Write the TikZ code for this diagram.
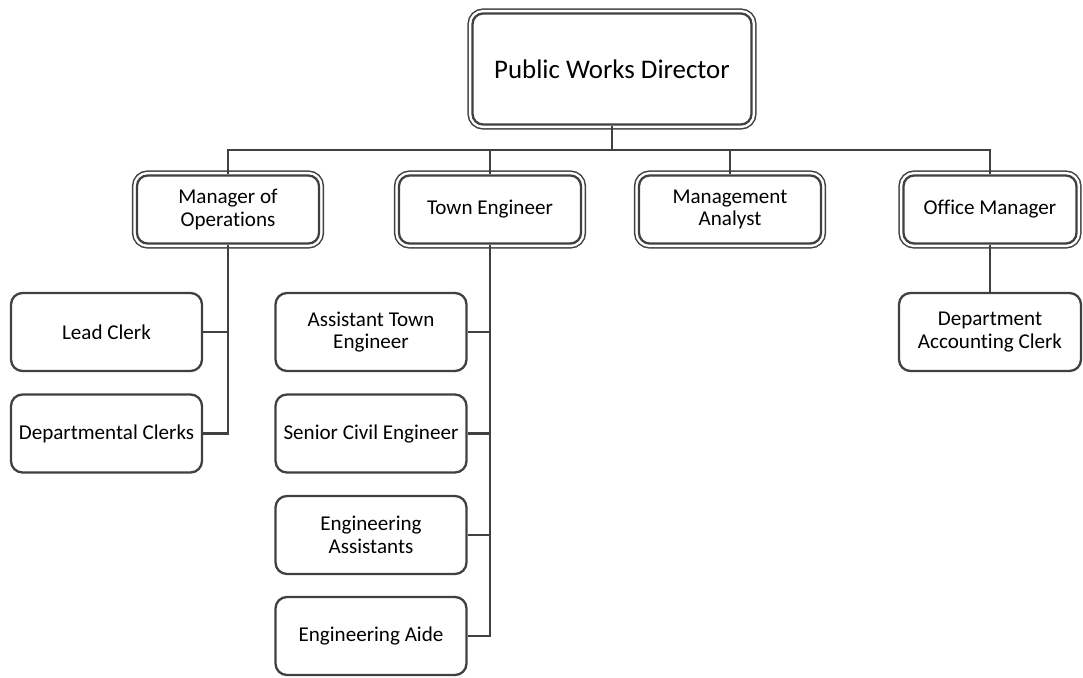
\documentclass[tikz,border=0pt]{standalone}
\usepackage{fontspec}
\setmainfont{Carlito}[Ligatures=NoCommon]
\usetikzlibrary{calc}
\definecolor{lineg}{HTML}{404040}

\begin{document}
\begin{tikzpicture}[x=0.02cm, y=-0.02cm,
  conn/.style={lineg, line width=1.3pt},
  dbox/.style={draw=lineg, fill=white, line width=1.3pt, rounded corners=6pt,
    preaction={draw=lineg, line width=5.8pt},
    preaction={draw=white, line width=4.1pt},
    align=center, inner sep=0pt,
    minimum width=3.64cm, minimum height=1.36cm, font=\fontsize{12}{13}\selectfont},
  sbox/.style={draw=lineg, line width=1.3pt, rounded corners=6.5pt, align=center,
    inner sep=0pt, minimum width=3.82cm, minimum height=1.56cm,
    font=\fontsize{12}{13}\selectfont}]
\useasboundingbox (0,0) rectangle (1083,677);
% top
\node[dbox, minimum width=5.58cm, minimum height=2.22cm, font=\fontsize{15.3}{17}\selectfont] (dir) at (612,69) {Public Works Director};
\coordinate (bar) at (612,150);
% second row
\node[dbox] (ops) at (228,209.5) {Manager of\\Operations};
\node[dbox] (te) at (490,209.5) {Town Engineer};
\node[dbox] (ma) at (730,209.5) {Management\\Analyst};
\node[dbox, minimum width=3.46cm] (om) at (990,209.5) {Office Manager};
% under manager of operations
\node[sbox] (lead) at (106.5,332) {Lead Clerk};
\node[sbox] (dclerks) at (106.5,433.5) {Departmental Clerks};
% under town engineer
\node[sbox] (ate) at (371,332) {Assistant Town\\Engineer};
\node[sbox] (sce) at (371,433.5) {Senior Civil Engineer};
\node[sbox] (engas) at (371,535) {Engineering\\Assistants};
\node[sbox] (aide) at (371,636) {Engineering Aide};
% under office manager
\node[sbox, minimum width=3.64cm] (dac) at (990,332) {Department\\Accounting Clerk};

\draw[conn] (dir) -- (bar);
\draw[conn] (bar) -| (ops);
\draw[conn] (bar) -| (te);
\draw[conn] (bar) -| (ma);
\draw[conn] (bar) -| (om);
\draw[conn] (ops.south) |- (lead.east);
\draw[conn] (ops.south) |- (dclerks.east);
\foreach \n in {ate,sce,engas,aide}
  \draw[conn] (te.south) |- (\n.east);
\draw[conn] (om) -- (dac);
\end{tikzpicture}
\end{document}
